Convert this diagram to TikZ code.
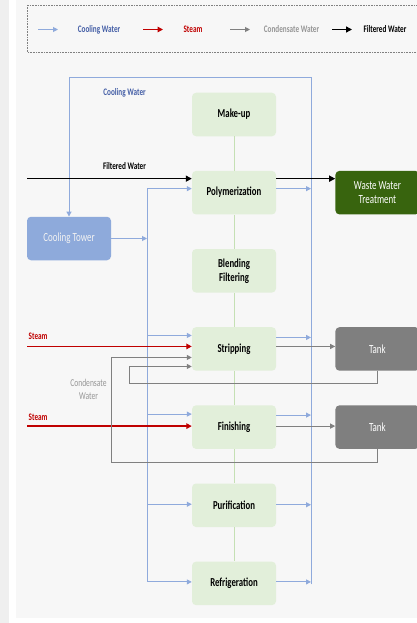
\documentclass[tikz,border=0pt]{standalone}
\usepackage{fontspec}
\setmainfont{Carlito}[FakeStretch=0.72]
\usepackage{tikz}
\usetikzlibrary{shapes,arrows.meta,positioning,calc}
\usepackage{xcolor}
\definecolor{coolblue}{RGB}{143,170,220}
\definecolor{cooltext}{RGB}{68,94,166}
\definecolor{steamred}{RGB}{192,0,0}
\definecolor{condgray}{RGB}{128,128,128}
\definecolor{condtext}{RGB}{150,150,150}
\definecolor{procgreen}{RGB}{226,239,218}
\definecolor{linkgreen}{RGB}{197,224,180}
\definecolor{wastegreen}{RGB}{56,100,14}
\definecolor{tankgray}{RGB}{127,127,127}
\definecolor{towerblue}{RGB}{142,170,219}
\definecolor{pagegray}{RGB}{247,247,247}
\definecolor{stripgray}{RGB}{239,239,239}

\tikzset{
  procbox/.style={fill=procgreen, rounded corners=4pt, minimum width=84pt, minimum height=43.5pt, align=center, font=\fontsize{12.2}{14}\selectfont\bfseries},
  tankbox/.style={fill=tankgray, text=white, rounded corners=4pt, minimum width=84pt, minimum height=43.5pt, font=\fontsize{12.4}{14}\selectfont},
  wastebox/.style={tankbox, fill=wastegreen, align=center},
  towerbox/.style={tankbox, fill=towerblue, text=white!95!black},
  coolline/.style={coolblue, line width=1pt},
  coolarr/.style={coolline, -{Triangle[length=5pt,width=5pt]}},
  steamarr/.style={steamred, line width=1.4pt, -{Triangle[length=5.5pt,width=5.5pt]}},
  condarr/.style={condgray, line width=1pt, -{Triangle[length=5pt,width=5pt]}},
  filtarr/.style={black, line width=1.4pt, -{Triangle[length=6pt,width=6pt]}},
  linkline/.style={linkgreen, line width=0.8pt},
  keytext/.style={font=\fontsize{10}{11}\selectfont\bfseries, inner sep=0pt},
  coollabel/.style={keytext, text=cooltext},
  steamlabel/.style={keytext, text=steamred},
  filtlabel/.style={keytext, text=black},
  condlabel/.style={font=\fontsize{10.5}{13}\selectfont, text=condtext, align=center, inner sep=0pt}
}

\begin{document}
\begin{tikzpicture}[x=1pt, y=-1pt, node distance=34.25pt]
    \useasboundingbox (0,0) rectangle (417,623);
    \fill[white] (0,0) rectangle (417,623);
    \fill[stripgray] (0,0) rectangle (9,623);
    \fill[pagegray] (16,0) rectangle (417,618);

    \draw[gray, densely dotted, line width=0.6pt] (27,5) rectangle (425,52);
    \foreach \i/\x/\sty/\tx/\col/\lbl in {1/38/coolarr/99/cooltext/Cooling Water, 2/143/steamarr/193/steamred/Steam, 3/230/condarr/291.5/condtext/Condensate Water, 4/332/filtarr/385/black/Filtered Water} {
        \coordinate (keya\i) at (\x,29.5);
        \coordinate (keyb\i) at (\x+20,29.5);
        \draw[\sty] (keya\i) -- (keyb\i);
        \node[keytext, text=\col] (keyt\i) at (\tx,29.5) {\lbl};
    }

    \node[procbox] (makeup) at (234,114.5) {Make-up};
    \node[procbox, below=of makeup] (polym) {Polymerization};
    \node[procbox, below=of polym] (blend) {Blending\\Filtering};
    \node[procbox, below=of blend] (strip) {Stripping};
    \node[procbox, below=of strip] (finish) {Finishing};
    \node[procbox, below=of finish] (purif) {Purification};
    \node[procbox, below=of purif] (refrig) {Refrigeration};
    \node[wastebox, right=59pt of polym] (waste) {Waste Water\\Treatment};
    \node[tankbox, right=59pt of strip] (tank1) {Tank};
    \node[tankbox, right=59pt of finish] (tank2) {Tank};
    \node[towerbox] (tower) at (69,238.5) {Cooling Tower};

    \foreach \a/\b in {makeup/polym,polym/blend,blend/strip,strip/finish,finish/purif,purif/refrig}
        \draw[linkline] (\a) -- (\b);

    \coordinate (leftend) at (27,0);
    \coordinate (supply) at (147,0);
    \coordinate (retcol) at (311,78);
    \coordinate (cond1) at (129,383);
    \coordinate (cond2) at (111,462);

    \draw[coolarr] (tower.east) -- (tower.east -| supply);
    \draw[coolline] ([yshift=4pt]polym.west -| supply) -- ([yshift=1.5pt]refrig.west -| supply);
    \foreach \n/\s in {polym/4pt, strip/13.5pt, finish/13pt, purif/1pt, refrig/1.5pt}
        \draw[coolarr] ([yshift=\s]\n.west -| supply) -- ([yshift=\s]\n.west);
    \foreach \n/\s in {polym/4pt, strip/11.5pt, finish/12pt, purif/0.5pt, refrig/1.5pt}
        \draw[coolarr] ([yshift=\s]\n.east) -- ([yshift=\s]\n.east -| retcol);
    \draw[coolarr] ([yshift=-1pt]refrig.east -| retcol) -- (retcol) -| (tower.north);
    \node[coollabel] (cwlabel) at (124.5,93) {Cooling Water};

    \draw[filtarr] ([yshift=14pt]polym.west -| leftend) -- ([yshift=14pt]polym.west);
    \node[filtlabel] (fwlabel) at (124.5,166.5) {Filtered Water};
    \draw[filtarr] ([yshift=14pt]polym.east) -- ([yshift=14pt]polym.east -| waste.west);

    \draw[steamarr] ([yshift=2.5pt]strip.west -| leftend) -- ([yshift=2.5pt]strip.west);
    \node[steamlabel, anchor=west] (steam1) at (28.5,336) {Steam};
    \draw[steamarr] ([yshift=1pt]finish.west -| leftend) -- ([yshift=1pt]finish.west);
    \node[steamlabel, anchor=west] (steam2) at (28.5,417) {Steam};

    \draw[condarr] ([yshift=2.5pt]strip.east) -- ([yshift=2.5pt]strip.east -| tank1.west);
    \draw[condarr] ([yshift=1pt]finish.east) -- ([yshift=1pt]finish.east -| tank2.west);
    \draw[condarr] (tank1.south) |- (cond1) |- ([yshift=-17.5pt]strip.west);
    \draw[condarr] (tank2.south) |- (cond2) |- ([yshift=-8.5pt]strip.west);
    \node[condlabel] (condlbl) at (88.5,389) {Condensate\\Water};
\end{tikzpicture}
\end{document}
